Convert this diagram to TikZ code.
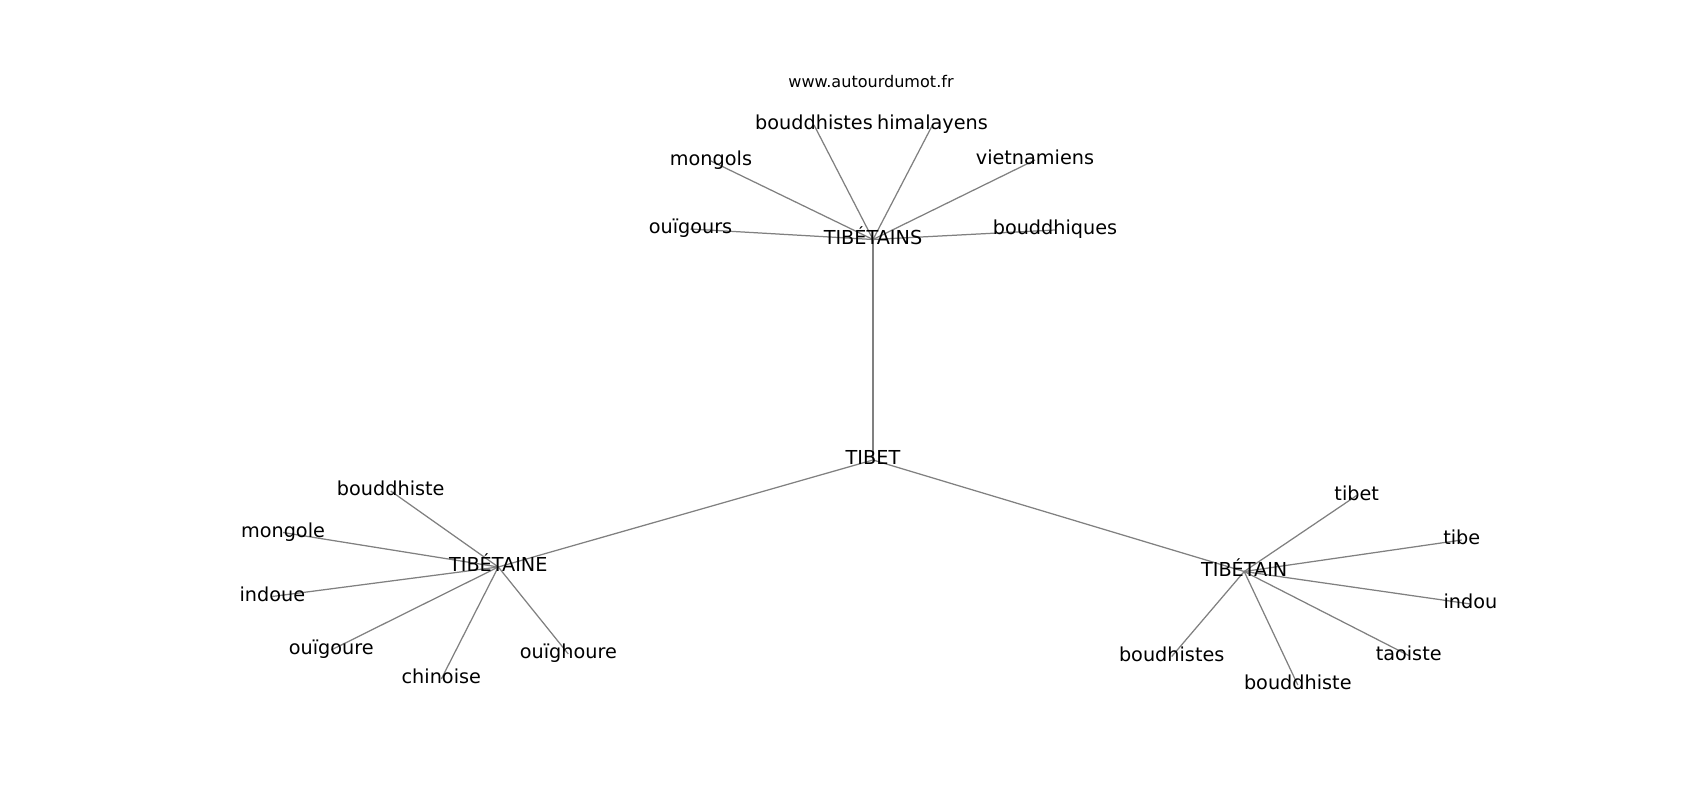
\documentclass[tikz,border=0pt]{standalone}
\usepackage{fontspec}
\setmainfont{DejaVu Sans}
\usetikzlibrary{backgrounds}

\begin{document}
\begin{tikzpicture}[x=0.01in, y=-0.01in,
  word/.style = {inner sep=0pt, text height=10pt, text depth=2.8pt, font=\fontsize{13.9}{16}\selectfont},
  link/.style = {draw=gray, line width=0.9pt}]
\useasboundingbox (0,0) rectangle (1700,800);
\node[font=\fontsize{11.6}{14}\selectfont, anchor=base] (site) at (871,88) {www.autourdumot.fr};
% hubs
\node[word] (tibet) at (873,460) {TIBET};
\node[word] (tibetains) at (873,239.5) {TIBÉTAINS};
\node[word] (tibetaine) at (498.3,567) {TIBÉTAINE};
\node[word] (tibetain) at (1244.2,571.5) {TIBÉTAIN};
% TIBÉTAINS
\node[word] (s1) at (814,125) {bouddhistes};
\node[word] (s2) at (932.5,125) {himalayens};
\node[word] (s3) at (711,161) {mongols};
\node[word] (s4) at (1035,160) {vietnamiens};
\node[word] (s5) at (690.5,229) {ouïgours};
\node[word] (s6) at (1055,230) {bouddhiques};
% TIBÉTAINE
\node[word] (e1) at (390.7,491) {bouddhiste};
\node[word] (e2) at (283,532.5) {mongole};
\node[word] (e3) at (272.3,596.5) {indoue};
\node[word] (e4) at (331.3,650) {ouïgoure};
\node[word] (e5) at (441.3,679) {chinoise};
\node[word] (e6) at (568.3,654) {ouïghoure};
% TIBÉTAIN
\node[word] (n1) at (1356.7,495.5) {tibet};
\node[word] (n2) at (1461.8,540) {tibe};
\node[word] (n3) at (1470.5,604) {indou};
\node[word] (n4) at (1408.7,655.5) {taoiste};
\node[word] (n5) at (1171.7,656.5) {boudhistes};
\node[word] (n6) at (1297.8,685) {bouddhiste};
\begin{scope}[on background layer]
\draw[link] (tibet.center) -- (tibetains.center);
\draw[link] (tibet.center) -- (tibetaine.center);
\draw[link] (tibet.center) -- (tibetain.center);
\foreach \i in {1,...,6} {
  \draw[link] (tibetains.center) -- (s\i.center);
  \draw[link] (tibetaine.center) -- (e\i.center);
  \draw[link] (tibetain.center) -- (n\i.center);
}
\end{scope}
\end{tikzpicture}
\end{document}
